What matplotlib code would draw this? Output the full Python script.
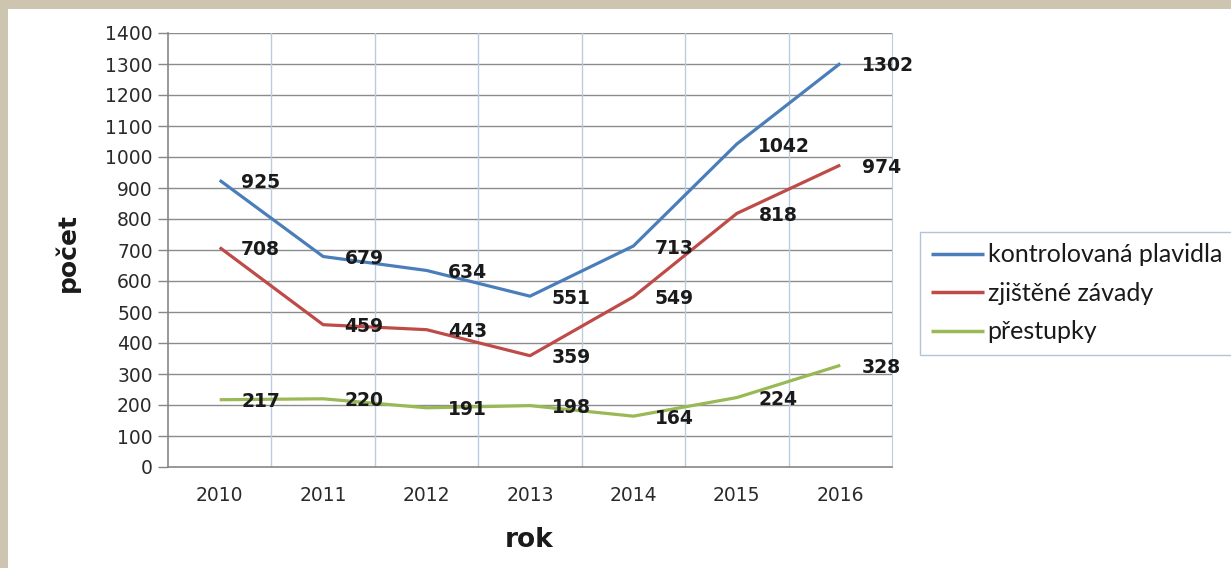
import numpy as np
import matplotlib
matplotlib.use('Agg')
import matplotlib.pyplot as plt
from matplotlib.patches import Rectangle

# data
years = ['2010', '2011', '2012', '2013', '2014', '2015', '2016']
kontrolovana = [925, 679, 634, 551, 713, 1042, 1302]
zavady = [708, 459, 443, 359, 549, 818, 974]
prestupky = [217, 220, 191, 198, 164, 224, 328]
series_names = ['kontrolovaná plavidla', 'zjištěné závady', 'přestupky']
yticks = list(range(0, 1401, 100))

colors = ['#4A7EBB', '#BE4B48', '#98B954']

plt.rcParams['font.family'] = ['DejaVu Sans']

fig = plt.figure(figsize=(12.31, 5.68), dpi=100)
fig.patch.set_facecolor('white')

# beige frame at top and left
fig.patches.append(Rectangle((0, 1 - 9 / 568), 1, 9 / 568, transform=fig.transFigure,
                             facecolor='#CDC5AF', edgecolor='none', zorder=0))
fig.patches.append(Rectangle((0, 0), 8 / 1231, 1, transform=fig.transFigure,
                             facecolor='#CDC5AF', edgecolor='none', zorder=0))

ax = fig.add_axes([168 / 1231, 1 - 467 / 568, (892 - 168) / 1231, (467 - 33) / 568])
x = np.arange(len(years))

for vals, name, c in zip([kontrolovana, zavady, prestupky], series_names, colors):
    ax.plot(x, vals, color=c, lw=2.3, label=name, zorder=3, solid_capstyle='butt')
    for xi, v in zip(x, vals):
        ax.annotate(str(v), (xi, v), xytext=(15.5, -1.5), textcoords='offset points',
                    ha='left', va='center', fontsize=13.5, fontweight='bold',
                    color='#1A1A1A', zorder=4)

ax.set_xlim(-0.5, 6.5)
ax.set_ylim(0, 1400)
ax.set_yticks(yticks)
ax.set_xticks(x)
ax.set_xticklabels(years)
ax.tick_params(axis='y', length=7, width=1, color='#868686', labelsize=13.5, pad=4)
ax.tick_params(axis='x', length=0, labelsize=13.5, pad=14)
for t in ax.get_yticklabels() + ax.get_xticklabels():
    t.set_color('#2A2A2A')

for yv in yticks[1:]:
    ax.axhline(yv, color='#8C8C8C', lw=1, zorder=1)
for xv in np.arange(0.5, 6.5, 1.0):
    ax.axvline(xv, color='#B9CDE0', lw=1, zorder=1)

ax.spines['top'].set_visible(False)
ax.spines['right'].set_color('#B9CDE0')
ax.spines['left'].set_color('#868686')
ax.spines['bottom'].set_color('#868686')
ax.spines['left'].set_linewidth(1.2)
ax.spines['bottom'].set_linewidth(1.2)

fig.text(67 / 1231, 1 - 252 / 568, 'počet', rotation=90, ha='center', va='center',
         fontsize=18, fontweight='bold', color='#1A1A1A')
fig.text(529 / 1231, 1 - 540 / 568, 'rok', ha='center', va='center',
         fontsize=19, fontweight='bold', color='#1A1A1A')

leg = fig.legend(loc='upper left', bbox_to_anchor=(920 / 1231, 1 - 232 / 568),
                 frameon=True, fancybox=False, prop={'family': 'Lato', 'size': 18},
                 handlelength=2.1, handletextpad=0.15, labelspacing=0.62,
                 borderpad=0.45, borderaxespad=0)
leg.get_frame().set_edgecolor('#9FB6CD')
leg.get_frame().set_linewidth(1)
for line in leg.get_lines():
    line.set_linewidth(2.5)
for t in leg.get_texts():
    t.set_color('#1A1A1A')

plt.savefig('out.png', dpi=100)
plt.close()
